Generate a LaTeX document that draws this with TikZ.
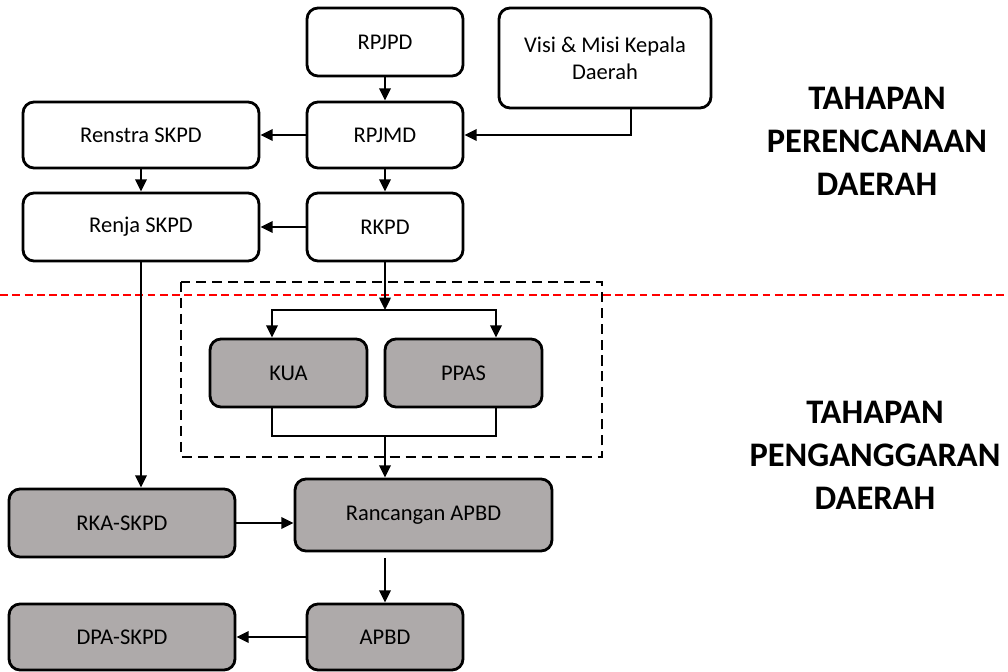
\documentclass[tikz,border=0pt]{standalone}
\usepackage{fontspec}
\setmainfont{Carlito}
\usepackage{xcolor}
\usepackage{tikz}
\usetikzlibrary{arrows.meta, calc, positioning}

\definecolor{boxgray}{RGB}{174,170,170}

\tikzset{
    box/.style={draw, line width=1.6pt, rounded corners=0.22cm, fill=white, inner sep=2pt, align=center, font=\fontsize{12.8}{15.3}\selectfont},
    graybox/.style={box, fill=boxgray},
    arr/.style={-{Triangle[length=7pt,width=6.5pt]}, line width=1.2pt},
    phase/.style={align=center, font=\fontsize{19.6}{24.4}\selectfont\bfseries},
}

\begin{document}
\begin{tikzpicture}[x=0.02cm, y=-0.02cm]
        \useasboundingbox (0,0) rectangle (1008,672);

        \draw[red, line width=1.2pt, dash pattern=on 4.5pt off 2.5pt] (0,295) -- (1008,295);
        \draw[line width=1.5pt, dash pattern=on 5.7pt off 3.4pt] (181,282) rectangle (602,457);

        \node[box, minimum width=3.12cm, minimum height=1.36cm] (rpjpd) at (385,42) {RPJPD};
        \node[box, minimum width=4.24cm, minimum height=2cm] (visi) at (605,58) {Visi \& Misi Kepala\\Daerah};
        \node[box, minimum width=3.12cm, minimum height=1.32cm] (rpjmd) at (385,135) {RPJMD};
        \node[box, minimum width=4.72cm, minimum height=1.32cm] (renstra) at (141,135) {Renstra SKPD};
        \node[box, minimum width=3.12cm, minimum height=1.36cm] (rkpd) at (385,227) {RKPD};
        \node[box, minimum width=4.72cm, minimum height=1.36cm] (renja) at (141,227) {Renja SKPD};

        \node[graybox, minimum width=3.14cm, minimum height=1.36cm] (kua) at (288.5,373) {KUA};
        \node[graybox, minimum width=3.14cm, minimum height=1.36cm] (ppas) at (463.5,373) {PPAS};
        \node[graybox, minimum width=4.52cm, minimum height=1.36cm] (rka) at (122,523) {RKA-SKPD};
        \node[graybox, minimum width=5.14cm, minimum height=1.44cm] (ranc) at (423.5,515) {Rancangan APBD};
        \node[graybox, minimum width=3.12cm, minimum height=1.32cm] (apbd) at (385,637) {APBD};
        \node[graybox, minimum width=4.52cm, minimum height=1.32cm] (dpa) at (122,637) {DPA-SKPD};

        \node[phase] (plan) at (877,141) {TAHAPAN\\PERENCANAAN\\DAERAH};
        \node[phase] (budget) at (875,455) {TAHAPAN\\PENGANGGARAN\\DAERAH};

        \coordinate (split) at (385,310);
        \coordinate (merge) at (385,436);

        \draw[arr] (rpjpd) -- (rpjmd);
        \draw[arr] ([xshift=0.52cm]visi.south) |- (rpjmd.east);
        \draw[arr] (rpjmd) -- (renstra);
        \draw[arr] (renstra) -- (renja);
        \draw[arr] (rpjmd) -- (rkpd);
        \draw[arr] (rkpd) -- (renja);
        \draw[arr] (renja.south) -- (renja.south |- rka.north);
        \draw[arr] (rkpd) -- (split);
        \draw[arr] (split) -| ([xshift=-0.33cm]kua.north);
        \draw[arr] (split) -| ([xshift=0.65cm]ppas.north);
        \draw[line width=1.2pt] ([xshift=-0.33cm]kua.south) |- (merge) -| ([xshift=0.65cm]ppas.south);
        \draw[arr] (merge) -- (merge |- ranc.north);
        \draw[arr] (rka) -- (rka -| ranc.west);
        \draw[arr] ([yshift=-0.12cm]ranc.south -| apbd.north) -- (apbd.north);
        \draw[arr] (apbd) -- (dpa);

\end{tikzpicture}
\end{document}
